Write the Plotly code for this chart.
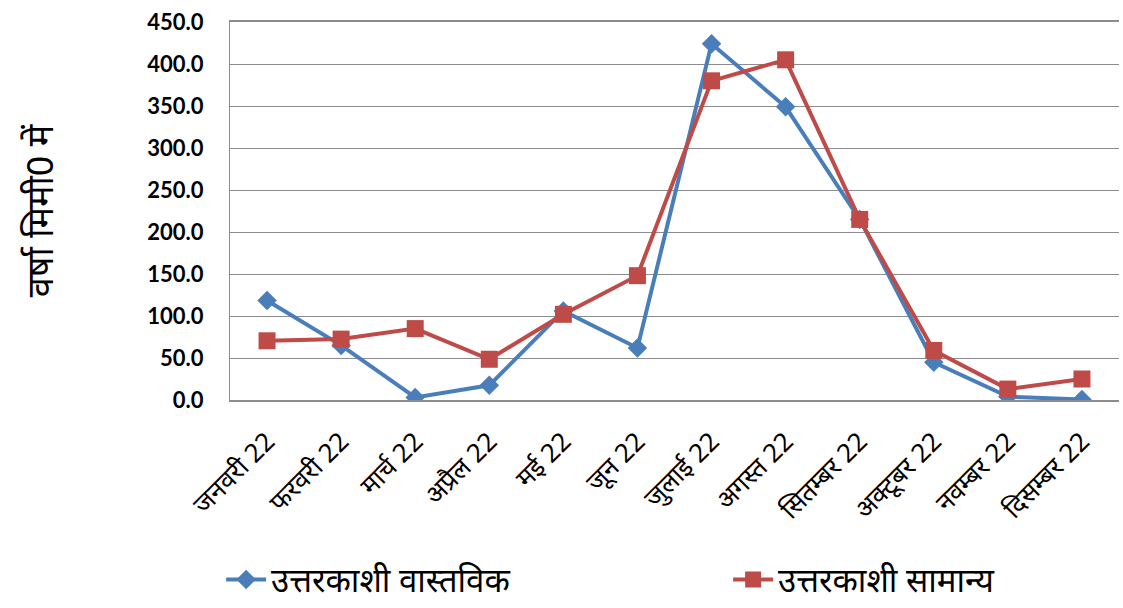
import plotly.graph_objects as go

months = ["जनवरी 22", "फरवरी 22", "मार्च 22", "अप्रैल 22", "मई 22", "जून 22",
          "जुलाई 22", "अगस्त 22", "सितम्बर 22", "अक्टूबर 22", "नवम्बर 22", "दिसम्बर 22"]
actual = [118.5, 65.0, 3.0, 17.5, 106.0, 62.0, 424.0, 349.0, 215.0, 45.0, 4.0, 0.5]
normal = [70.5, 72.5, 85.0, 48.5, 102.0, 148.0, 380.0, 405.0, 215.0, 59.0, 13.0, 25.0]
name_actual = "उत्तरकाशी वास्तविक"
name_normal = "उत्तरकाशी सामान्य"
y_ticks = [0, 50, 100, 150, 200, 250, 300, 350, 400, 450]

fig = go.Figure()
fig.add_trace(go.Scatter(x=months, y=actual, name=name_actual, mode="lines+markers",
                         line=dict(color="#4A7EBB", width=4),
                         marker=dict(symbol="diamond", size=15, color="#4A7EBB")))
fig.add_trace(go.Scatter(x=months, y=normal, name=name_normal, mode="lines+markers",
                         line=dict(color="#BE4B48", width=4),
                         marker=dict(symbol="square", size=17, color="#BE4B48")))

fig.update_layout(
    width=1123, height=608,
    margin=dict(l=230, r=4, t=22, b=208, autoexpand=False),
    plot_bgcolor="white", paper_bgcolor="white",
    font=dict(family="Noto Sans, sans-serif", color="black"),
    showlegend=True,
    legend=dict(orientation="h", x=-0.01, xanchor="left", y=-0.475, yanchor="middle",
                font=dict(size=33, family="Noto Sans"), entrywidth=452,
                itemwidth=40, tracegroupgap=0),
    xaxis=dict(type="category", tickangle=-45, tickfont=dict(size=26, family="Noto Sans"),
               showgrid=False, showline=True, mirror=True, linecolor="#8C8C8C", linewidth=1.5,
               ticks="", range=[-0.5, 11.5], automargin=False,
               ticklabelstandoff=14),
    yaxis=dict(range=[0, 450], tickvals=y_ticks, tickformat=".1f",
               tickfont=dict(size=22, family="Lato", weight="bold"),
               ticklabeloverflow="allow",
               showgrid=True, gridcolor="#8C8C8C", gridwidth=1.3,
               showline=True, linecolor="#8C8C8C", linewidth=1.3,
               zeroline=True, zerolinecolor="#8C8C8C", zerolinewidth=1.3,
               ticks="", ticklabelstandoff=21, automargin=False,
               title=dict(text="वर्षा मिमी0 में", font=dict(size=36, family="Noto Sans"), standoff=82)),
)

fig.write_html("out.html", config={"displayModeBar": False},
               post_script="document.body.style.margin='0';")
